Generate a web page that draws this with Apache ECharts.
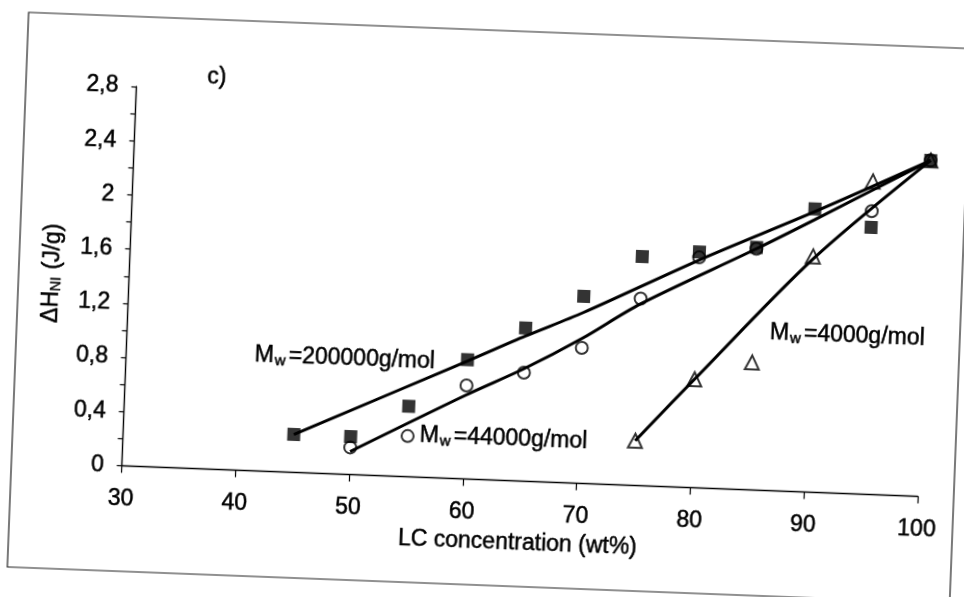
<!DOCTYPE html>
<html>
<head>
<meta charset="utf-8">
<script src="https://cdn.jsdelivr.net/npm/echarts@6/dist/echarts.min.js"></script>
<style>
html,body{margin:0;padding:0;background:#fff;overflow:hidden;}
#chart{width:964px;height:597px;transform:rotate(2.2deg);transform-origin:482px 298.5px;}
</style>
</head>
<body>
<div id="chart"></div>
<script>
// ---- data ----
const xTickValues = [30, 40, 50, 60, 70, 80, 90, 100];
const xTickLabels = ['30', '40', '50', '60', '70', '80', '90', '100'];
const yTickValues = [0, 0.4, 0.8, 1.2, 1.6, 2, 2.4, 2.8];
const yTickLabels = ['0', '0,4', '0,8', '1,2', '1,6', '2', '2,4', '2,8'];

// Mw = 200000 g/mol (filled squares)
const lc200k = [45, 50, 55, 60, 65, 70, 75, 80, 85, 90, 95, 100];
const dh200k = [0.28, 0.28, 0.52, 0.88, 1.13, 1.38, 1.69, 1.74, 1.79, 2.09, 1.97, 2.48];
// Mw = 44000 g/mol (open circles)
const lc44k = [50, 55, 60, 65, 70, 75, 80, 85, 95, 100];
const dh44k = [0.20, 0.30, 0.69, 0.80, 1.00, 1.38, 1.70, 1.78, 2.09, 2.48];
// Mw = 4000 g/mol (open triangles)
const lc4k = [75, 80, 85, 90, 95, 100];
const dh4k = [0.33, 0.80, 0.94, 1.74, 2.31, 2.48];

// fitted curves
const fit200kX = [45, 60, 65, 70, 80, 90, 100];
const fit200kY = [0.28, 0.87, 1.07, 1.26, 1.68, 2.07, 2.48];
const fit44kX = [50, 60, 65, 70, 75, 85, 90, 100];
const fit44kY = [0.17, 0.62, 0.83, 1.07, 1.34, 1.78, 2.01, 2.48];
const fit4kX = [75, 80, 90, 100];
const fit4kY = [0.33, 0.80, 1.72, 2.48];

const seriesNames = ['200000g/mol', '44000g/mol', '4000g/mol'];
const panelLabel = 'c)';
const xName = 'LC concentration (wt%)';

function zip(a, b) { return a.map((v, i) => [v, b[i]]); }
function labelFor(values, labels, v) {
  for (let i = 0; i < values.length; i++) {
    if (Math.abs(values[i] - v) < 1e-6) return labels[i];
  }
  return '';
}

const FONT = '"Liberation Sans", Arial, sans-serif';
const FS = 23;
const TB = {textBorderColor: '#000', textBorderWidth: 0.5};
const GS = {stroke: '#000', lineWidth: 0.5};

const chart = echarts.init(document.getElementById('chart'), null, {renderer: 'canvas'});

function mwLabel(x, y, mw) {
  return {
    type: 'text', x: x, y: y, silent: true, z: 10,
    style: Object.assign({
      text: '{m|M}{s|w}{t|=' + mw + '}',
      verticalAlign: 'middle',
      fill: '#000',
      rich: {
        m: Object.assign({fontSize: FS, fontFamily: FONT, fill: '#000'}, GS),
        s: Object.assign({fontSize: 15, fontFamily: FONT, fill: '#000', padding: [10, 3, 0, 1]}, GS),
        t: Object.assign({fontSize: FS, fontFamily: FONT, fill: '#000'}, GS)
      }
    }, GS)
  };
}

const option = {
  backgroundColor: 'transparent',
  animation: false,
  grid: {left: 128.5, right: 39, top: 100, bottom: 117.5, containLabel: false},
  xAxis: {
    type: 'value', min: 30, max: 100, interval: 10,
    name: xName, nameLocation: 'middle', nameGap: 50,
    nameTextStyle: Object.assign({fontFamily: FONT, fontSize: FS, color: '#000'}, TB),
    axisLine: {show: true, lineStyle: {color: '#000', width: 1.4}},
    axisTick: {show: true, inside: false, length: 7, lineStyle: {color: '#000', width: 1.2}},
    axisLabel: Object.assign({
      margin: 22, fontFamily: FONT, fontSize: FS, color: '#000',
      formatter: v => labelFor(xTickValues, xTickLabels, v)
    }, TB),
    splitLine: {show: false}
  },
  yAxis: {
    type: 'value', min: 0, max: 2.8, interval: 0.2,
    name: '{a|ΔH}{s|NI}{a| (J/g)}', nameLocation: 'middle', nameGap: 65,
    nameTextStyle: {
      color: '#000',
      rich: {
        a: Object.assign({fontFamily: FONT, fontSize: FS, color: '#000'}, TB),
        s: Object.assign({fontFamily: FONT, fontSize: 14, color: '#000', padding: [9, 1, 0, 0]}, TB)
      }
    },
    axisLine: {show: true, lineStyle: {color: '#000', width: 1.4}},
    axisTick: {show: true, inside: false, length: 5, lineStyle: {color: '#000', width: 1.2}},
    axisLabel: Object.assign({
      margin: 18, fontFamily: FONT, fontSize: FS, color: '#000',
      formatter: v => labelFor(yTickValues, yTickLabels, v)
    }, TB),
    splitLine: {show: false}
  },
  graphic: [
    {type: 'rect', silent: true, z: -10,
     shape: {x: 18, y: 30, width: 943, height: 555},
     style: {fill: 'none', stroke: '#222', lineWidth: 1.2}},
    {type: 'text', x: 199, y: 88, silent: true, z: 10,
     style: Object.assign({text: panelLabel, font: FS + 'px ' + FONT, fill: '#000', verticalAlign: 'middle'}, GS)},
    mwLabel(257, 364, seriesNames[0]),
    mwLabel(425, 438, seriesNames[1]),
    mwLabel(771, 322, seriesNames[2])
  ],
  series: [
    {type: 'line', name: 'fit ' + seriesNames[0], data: zip(fit200kX, fit200kY),
     smooth: 0.3, showSymbol: false, silent: true,
     lineStyle: {color: '#000', width: 3}, z: 2},
    {type: 'line', name: 'fit ' + seriesNames[1], data: zip(fit44kX, fit44kY),
     smooth: 0.3, showSymbol: false, silent: true,
     lineStyle: {color: '#000', width: 3}, z: 2},
    {type: 'line', name: 'fit ' + seriesNames[2], data: zip(fit4kX, fit4kY),
     smooth: 0.3, showSymbol: false, silent: true,
     lineStyle: {color: '#000', width: 3}, z: 2},
    {type: 'scatter', name: seriesNames[1], data: zip(lc44k, dh44k),
     symbol: 'circle', symbolSize: 12,
     itemStyle: {color: 'rgba(255,255,255,0)', borderColor: '#000', borderWidth: 2}, z: 3},
    {type: 'scatter', name: seriesNames[2], data: zip(lc4k, dh4k),
     symbol: 'triangle', symbolSize: 14,
     itemStyle: {color: 'rgba(255,255,255,0)', borderColor: '#000', borderWidth: 2}, z: 3},
    {type: 'scatter', name: seriesNames[0], data: zip(lc200k, dh200k),
     symbol: 'rect', symbolSize: 13,
     itemStyle: {color: '#000'}, z: 4}
  ]
};
chart.setOption(option);
</script>
</body>
</html>
